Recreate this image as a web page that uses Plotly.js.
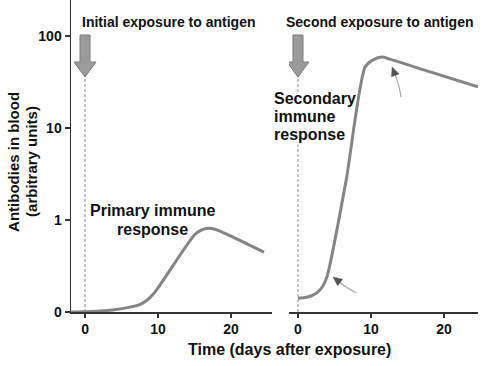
<!DOCTYPE html>
<html><head><meta charset="utf-8">
<script src="https://cdn.plot.ly/plotly-3.0.1.min.js"></script>
<style>html,body{margin:0;padding:0;background:#fff}</style>
</head><body><div id="chart" style="width:483px;height:366px"></div>
<script>
// ---- data ----
const primaryDays   = [-1.9, 0, 2, 4, 6, 7.5, 8.5, 9.5, 15, 15.9, 16.8, 17.8, 24.5];
const primaryLevels = [0.0, 0.003, 0.01, 0.025, 0.05, 0.08, 0.13, 0.21, 0.84, 0.89, 0.91, 0.90, 0.65];
const secondaryDays   = [0, 1.2, 2.6, 3.4, 4.0, 6.6, 9.2, 10.3, 11.5, 12.6, 18, 24.66];
const secondaryLevels = [0.15, 0.16, 0.21, 0.28, 0.39, 2.7, 46, 55, 59, 56, 41, 28];
const tickLevels = [0, 1, 10, 100];
const tickLabels = ['0', '1', '10', '100'];
const dayTicks = [0, 10, 20];
const exposureDay = 0;
const panelTitles = ['Initial exposure to antigen', 'Second exposure to antigen'];
const primaryLabel = ['Primary immune', 'response'];
const secondaryLabel = ['Secondary', 'immune', 'response'];
const yTitle = ['Antibodies in blood', '(arbitrary units)'];
const xTitle = 'Time (days after exposure)';
// pointer arrows: [day, level] of arrow tips in the second panel
const pointerDays = [12.9, 4.8];
const pointerLevels = [46, 0.38];

// axis scale: linear from 0 to 1, logarithmic above 1
function u(v) { return v <= 1 ? v : 1 + Math.log10(v); }

const FONT = 'Liberation Sans, Arial, Helvetica, sans-serif';
const INK = '#111';
const AX = '#333';
const CURVE = '#858585';

const traces = [
  {x: primaryDays, y: primaryLevels.map(u), xaxis: 'x', yaxis: 'y', mode: 'lines',
   line: {color: CURVE, width: 3, shape: 'spline', smoothing: 0.7}, hoverinfo: 'skip'},
  {x: secondaryDays, y: secondaryLevels.map(u), xaxis: 'x2', yaxis: 'y', mode: 'lines',
   line: {color: CURVE, width: 3, shape: 'spline', smoothing: 0.7}, hoverinfo: 'skip'}
];

function xax(domain, range) {
  return {domain: domain, range: range, anchor: 'y', showline: true, linecolor: AX, linewidth: 1.5,
    ticks: 'outside', ticklen: 4, tickwidth: 1.5, tickcolor: AX, tickvals: dayTicks,
    showgrid: false, zeroline: false, fixedrange: true,
    tickfont: {family: FONT, size: 14, color: INK, weight: 'bold'}};
}

const shapes = [];
const annotations = [];
const arrowTop = u(100);
const arrowTip = 2.55;

['x', 'x2'].forEach(function (xr, i) {
  // block arrow
  shapes.push({type: 'path', xref: xr, yref: 'y', xsizemode: 'pixel', ysizemode: 'pixel',
    xanchor: exposureDay, yanchor: arrowTop,
    path: 'M -5,1 L 5,1 L 5,-26 L 11,-26 L 0,-41 L -11,-26 L -5,-26 Z',
    fillcolor: '#9b9b9b', line: {color: '#7a7a7a', width: 1}, layer: 'above'});
  // panel titles
  annotations.push({xref: xr, yref: 'y', x: exposureDay, y: 3.15, xanchor: 'left', yanchor: 'middle',
    xshift: i === 0 ? -5 : -14, showarrow: false, text: panelTitles[i],
    font: {family: FONT, size: 14, color: INK, weight: 'bold'}});
});
// dashed exposure lines
const dash = {color: '#8a8a8a', width: 1, dash: '3px,2px'};
shapes.push({type: 'line', xref: 'x', yref: 'y', x0: exposureDay, x1: exposureDay, y0: 0, y1: arrowTip, line: dash});
shapes.push({type: 'line', xref: 'x2', yref: 'y', x0: exposureDay, x1: exposureDay, y0: 2.39, y1: arrowTip, line: dash});
shapes.push({type: 'line', xref: 'x2', yref: 'y', x0: exposureDay, x1: exposureDay, y0: 0, y1: 1.82, line: dash});

// curved pointer arrows (pixel offsets relative to tip, y up)
function head(bx, by, len, w) {
  const d = Math.hypot(bx, by); const dx = -bx / d, dy = -by / d;
  const px = -dy, py = dx;
  const b0 = -dx * len, b1 = -dy * len;
  return 'M 0,0 L ' + (b0 + px * w).toFixed(1) + ',' + (b1 + py * w).toFixed(1) +
    ' L ' + (b0 - px * w).toFixed(1) + ',' + (b1 - py * w).toFixed(1) + ' Z';
}
const pointerGeo = [
  {tail: [9, -30], ctrl: [6, -14], base: [3, -8]},
  {tail: [23.5, -16], ctrl: [12, -10], base: [6.5, -5]}
];
pointerGeo.forEach(function (g, i) {
  shapes.push({type: 'path', xref: 'x2', yref: 'y', xsizemode: 'pixel', ysizemode: 'pixel',
    xanchor: pointerDays[i], yanchor: u(pointerLevels[i]),
    path: 'M ' + g.tail[0] + ',' + g.tail[1] + ' Q ' + g.ctrl[0] + ',' + g.ctrl[1] + ' ' + g.base[0] + ',' + g.base[1],
    line: {color: '#a8a8a8', width: 1.2}, layer: 'above'});
  shapes.push({type: 'path', xref: 'x2', yref: 'y', xsizemode: 'pixel', ysizemode: 'pixel',
    xanchor: pointerDays[i], yanchor: u(pointerLevels[i]),
    path: head(g.base[0], g.base[1], 9, 4), fillcolor: '#555', line: {color: '#555', width: 0.5}, layer: 'above'});
});

// response labels (one annotation per line, lines spaced to not overlap)
const lblFont = {family: FONT, size: 16, color: INK, weight: 'bold'};
const primaryY = [1.098, 0.902];
primaryLabel.forEach(function (t, i) {
  annotations.push({xref: 'x', yref: 'y', x: 9.2, y: primaryY[i], xanchor: 'center', yanchor: 'middle',
    showarrow: false, text: t, font: lblFont});
});
const secondaryY = [2.326, 2.13, 1.934];
secondaryLabel.forEach(function (t, i) {
  annotations.push({xref: 'x2', yref: 'y', x: exposureDay, xshift: -26, y: secondaryY[i],
    xanchor: 'left', yanchor: 'middle', showarrow: false, text: t, font: lblFont});
});
// axis titles
yTitle.forEach(function (t, i) {
  annotations.push({xref: 'paper', yref: 'paper', x: 0, xshift: i === 0 ? -57 : -39, y: 0.481,
    xanchor: 'center', yanchor: 'middle', textangle: -90, showarrow: false, text: t,
    font: {family: FONT, size: 15, color: INK, weight: 'bold'}});
});
annotations.push({xref: 'paper', yref: 'paper', x: 0.538, y: -0.1186, xanchor: 'center', yanchor: 'middle',
  showarrow: false, text: xTitle, font: {family: FONT, size: 16, color: INK, weight: 'bold'}});

const layout = {
  width: 483, height: 366,
  margin: {l: 71, r: 5, t: 0, b: 54},
  paper_bgcolor: '#fff', plot_bgcolor: '#fff', showlegend: false,
  font: {family: FONT, size: 14, color: INK},
  xaxis: xax([0, 0.4939], [-1.92, 25.6]),
  xaxis2: xax([0.5356, 1], [-1.23, 24.66]),
  yaxis: {domain: [0, 1], range: [0, 3.3913], anchor: 'x', showline: true, linecolor: AX, linewidth: 1.5,
    ticks: 'outside', ticklen: 5, tickwidth: 1.5, tickcolor: AX,
    tickvals: tickLevels.map(u), ticktext: tickLabels, showgrid: false, zeroline: false, fixedrange: true,
    tickfont: {family: FONT, size: 14, color: INK, weight: 'bold'}},
  shapes: shapes,
  annotations: annotations
};

Plotly.newPlot('chart', traces, layout, {displayModeBar: false, staticPlot: true});
</script>
</body></html>
